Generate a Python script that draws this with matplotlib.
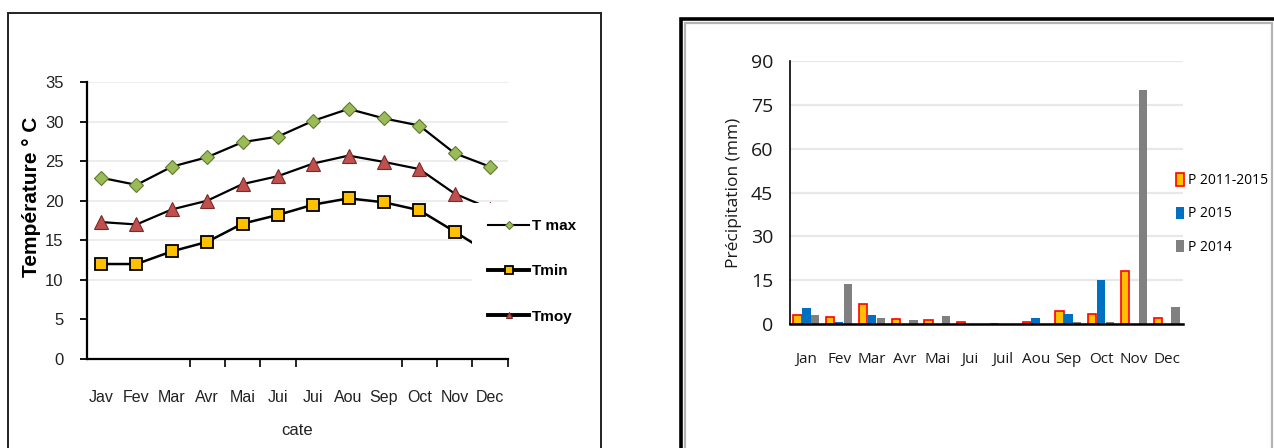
import matplotlib
matplotlib.use("Agg")
import matplotlib.pyplot as plt
import numpy as np
from matplotlib.patches import Rectangle

# ---- temperature panel data ----
temp_months = ["Jav", "Fev", "Mar", "Avr", "Mai", "Jui", "Jui", "Aou", "Sep", "Oct", "Nov", "Dec"]
t_max = [22.9, 22.0, 24.3, 25.5, 27.4, 28.1, 30.1, 31.6, 30.4, 29.5, 26.0, 24.3]
t_min = [12.0, 12.0, 13.6, 14.8, 17.1, 18.2, 19.5, 20.3, 19.8, 18.8, 16.1, 13.3]
t_moy = [17.3, 17.0, 18.9, 20.0, 22.1, 23.1, 24.7, 25.7, 24.9, 24.0, 20.9, 19.0]

# ---- precipitation panel data ----
precip_months = ["Jan", "Fev", "Mar", "Avr", "Mai", "Jui", "Juil", "Aou", "Sep", "Oct", "Nov", "Dec"]
p_2011_2015 = [3.2, 2.5, 6.8, 1.8, 1.4, 0.7, 0.0, 0.8, 4.5, 3.3, 18.2, 2.2]
p_2015 = [5.6, 0.7, 3.1, 0.0, 0.0, 0.0, 0.0, 2.2, 3.3, 15.0, 0.0, 0.0]
p_2014 = [3.2, 13.7, 1.9, 1.4, 2.6, 0.0, 0.0, 0.0, 0.8, 0.8, 80.2, 5.8]

W, H = 1274, 448
fig = plt.figure(figsize=(W / 100, H / 100), dpi=100)
fig.patch.set_facecolor("white")

NARROW = ["Liberation Sans Narrow", "Liberation Sans", "DejaVu Sans"]
SANS = ["Open Sans", "DejaVu Sans"]


def fx(px):
    return px / W


def fy(py):
    return 1 - py / H


# ---- panel frames ----
fig.add_artist(Rectangle((fx(7.5), fy(470)), fx(601 - 7.5), fy(13) - fy(470),
                         transform=fig.transFigure, fill=False, ec="#222222", lw=1.4))
fig.add_artist(Rectangle((fx(681), fy(470)), fx(1290 - 681), fy(19) - fy(470),
                         transform=fig.transFigure, fill=False, ec="black", lw=2.6))
fig.add_artist(Rectangle((fx(685), fy(470)), fx(1271.5 - 685), fy(23) - fy(470),
                         transform=fig.transFigure, fill=False, ec="#b4b4b4", lw=1.6))

# ================= temperature chart =================
ax1 = fig.add_axes([fx(87), fy(359), fx(508 - 87), (359 - 82) / H])
x1 = np.arange(len(temp_months))

l_max, = ax1.plot(x1, t_max, color="black", lw=1.6, marker="D", ms=7,
                  mfc="#9bbb59", mec="#5f7a30", mew=0.8, label="T max", zorder=3)
l_min, = ax1.plot(x1, t_min, color="black", lw=1.8, marker="s", ms=8.5,
                  mfc="#ffc000", mec="black", mew=1.3, label="Tmin", zorder=3)
l_moy, = ax1.plot(x1, t_moy, color="black", lw=1.6, marker="^", ms=10,
                  mfc="#c0504d", mec="#7a2a28", mew=0.8, label="Tmoy", zorder=3)

ax1.set_xlim(-0.4, 11.51)
ax1.set_ylim(0, 35)
ax1.set_yticks(np.arange(0, 36, 5))
ax1.set_xticks(x1)
ax1.set_xticklabels(temp_months)
ax1.set_xticks([2.5, 3.5, 4.5, 5.5, 8.5, 9.5, 10.5, 11.5], minor=True)
ax1.tick_params(axis="x", which="major", length=0, pad=22, labelsize=11.5, labelcolor="#222222")
ax1.tick_params(axis="x", which="minor", length=6, width=1.2, direction="out", color="black")
ax1.tick_params(axis="y", length=5, width=1.3, pad=12, labelsize=12, labelcolor="#222222")
for lab in ax1.get_xticklabels() + ax1.get_yticklabels():
    lab.set_family(NARROW)

ax1.grid(axis="y", color="#ececec", lw=1.3, zorder=0)
for tick_val, gl in zip(ax1.get_yticks(), ax1.yaxis.get_gridlines()):
    if tick_val < 10:
        gl.set_visible(False)
ax1.set_axisbelow(True)

for side in ("top", "right"):
    ax1.spines[side].set_visible(False)
for side in ("left", "bottom"):
    ax1.spines[side].set_color("black")
    ax1.spines[side].set_linewidth(1.6)

ax1.set_xlabel("cate", family=NARROW, fontsize=12, color="#222222")
ax1.xaxis.set_label_coords(0.5, -0.23)
ax1.set_ylabel("Température ° C", family=["Liberation Sans", "DejaVu Sans"],
               fontsize=15, fontweight="bold", va="center")
ax1.yaxis.set_label_coords(-0.133, 0.585)

leg1 = ax1.legend(handles=[l_max, l_min, l_moy], loc="upper left",
                  bbox_to_anchor=(fx(472), fy(203)), bbox_transform=fig.transFigure,
                  borderaxespad=0, borderpad=1.05, frameon=True, fancybox=False,
                  facecolor="white", edgecolor="none", framealpha=1,
                  handlelength=2.7, handletextpad=0.2, labelspacing=2.05,
                  prop={"family": NARROW, "size": 11, "weight": "bold"})
leg1.set_zorder(10)
for h, lw, ms in zip(leg1.legend_handles, [1.5, 2.8, 2.8], [4, 6, 5]):
    h.set_linewidth(lw)
    h.set_markersize(ms)

# ================= precipitation chart =================
ax2 = fig.add_axes([fx(790), fy(324), fx(1183 - 790), (324 - 61) / H])
x2 = np.arange(len(precip_months))
bw = 0.27
ax2.bar(x2 - bw, p_2011_2015, bw * 0.95, color="#ffc000", edgecolor="#ff0000",
        linewidth=1.2, label="P 2011-2015", zorder=2)
ax2.bar(x2, p_2015, bw * 0.95, color="#0070c0", edgecolor="none",
        label="P 2015", zorder=2)
ax2.bar(x2 + bw, p_2014, bw * 0.95, color="#808080", edgecolor="none",
        label="P 2014", zorder=2)

ax2.set_xlim(-0.5, 11.5)
ax2.set_ylim(0, 90)
ax2.set_yticks(np.arange(0, 91, 15))
ax2.set_xticks(x2)
ax2.set_xticklabels(precip_months)
ax2.tick_params(axis="x", length=0, pad=20, labelsize=11, labelcolor="#1a1a1a")
ax2.tick_params(axis="y", length=0, pad=12, labelsize=14, labelcolor="#1a1a1a")
for lab in ax2.get_xticklabels() + ax2.get_yticklabels():
    lab.set_family(SANS)

ax2.grid(axis="y", color="#e8e8e8", lw=1.6, zorder=0)
ax2.set_axisbelow(True)
for side in ("top", "right"):
    ax2.spines[side].set_visible(False)
ax2.spines["left"].set_color("black")
ax2.spines["left"].set_linewidth(1.2)
ax2.spines["bottom"].set_color("black")
ax2.spines["bottom"].set_linewidth(1.8)

ax2.set_ylabel("Précipitation (mm)", family=SANS, fontsize=12.5, color="#1a1a1a", va="center")
ax2.yaxis.set_label_coords(-0.1425, 0.5)

ax2.legend(loc="center left", bbox_to_anchor=(fx(1176), fy(214)),
           bbox_transform=fig.transFigure, frameon=False, borderpad=0,
           borderaxespad=0, handlelength=0.6, handleheight=1.0,
           handletextpad=0.3, labelspacing=1.3,
           prop={"family": SANS, "size": 10})

fig.savefig("out.png", dpi=100, facecolor="white")
